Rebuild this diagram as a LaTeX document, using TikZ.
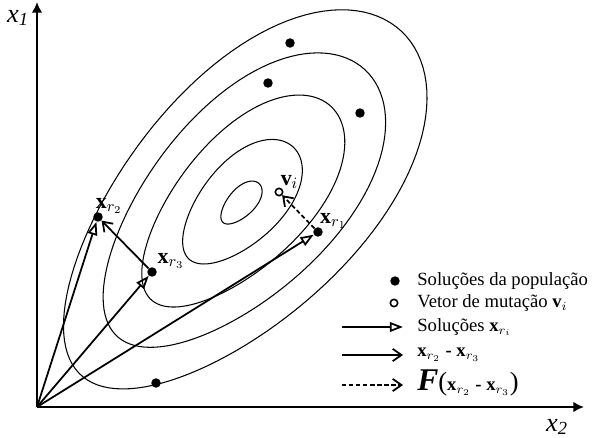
\documentclass[tikz,border=0pt]{standalone}
\usepackage{fontspec}
\setmainfont{Liberation Serif}
\usetikzlibrary{arrows.meta,positioning}

\newcommand{\solx}[1]{\textbf{x}$_{r_{#1}}$}

\tikzset{
  ponto/.style={circle,fill=black,inner sep=0pt,minimum size=5.4pt},
  mutante/.style={circle,draw=black,fill=white,line width=0.9pt,inner sep=0pt,minimum size=4.2pt},
  eixo/.style={line width=1.3pt,-{Latex[length=6pt,width=6pt]}},
  curva/.style={line width=0.6pt},
  vetsol/.style={line width=1pt,-{Triangle[open,length=7.5pt,width=5.5pt,line width=1pt]}},
  vetdif/.style={line width=1pt,-{Straight Barb[length=5pt,width=7pt,line width=1pt]}},
  vetmut/.style={vetdif,dash pattern=on 2.5pt off 1.5pt},
  rotulo/.style={inner sep=0pt,font=\fontsize{10.6}{13}\selectfont},
  marca/.style={inner sep=0pt,font=\fontsize{12.5}{14}\selectfont},
}

\begin{document}
\begin{tikzpicture}[x=0.02cm,y=0.02cm]
    \useasboundingbox (0,0) rectangle (592,437);
    % Eixos
    \coordinate (O) at (37,30);
    \coordinate (ytop) at (37,435);
    \coordinate (xend) at (584,30);
    \draw[eixo] (O) -- (ytop);
    \draw[eixo] (O) -- (xend);
    \node[rotulo] (lx1) at (18,419) {\fontsize{15}{15}\selectfont\itshape x\textsubscript{1}};
    \node[rotulo] (lx2) at (557,10) {\fontsize{15}{15}\selectfont\itshape x\textsubscript{2}};
    % Curvas de nivel
    \begin{scope}[shift={(241,234)},rotate=47]
      \foreach \a/\b in {26.5/13.5,76.5/40,132/64,182/92,235/117}
        \draw[curva] plot[domain=0:360,samples=120] ({\a*cos(\x)},{\b*sin(\x)*(1+0.12*cos(\x))}) -- cycle;
    \end{scope}
    % Solucoes da populacao
    \node[ponto] (p1) at (290,394) {};
    \node[ponto] (p2) at (268,354) {};
    \node[ponto] (p3) at (360,324) {};
    \node[ponto] (p4) at (156,54) {};
    \node[ponto] (xr1) at (318,205) {};
    \node[ponto] (xr2) at (98,220) {};
    \node[ponto] (xr3) at (152,165) {};
    \node[mutante] (vi) at (279,245) {};
    \node[marca,above right=0pt and -3.5pt of xr2] (lxr2) {\solx{2}};
    \node[marca,above right=0pt and 1pt of xr3] (lxr3) {\solx{3}};
    \node[marca,above right=0pt and -1pt of xr1] (lxr1) {\solx{1}};
    \node[marca,above right=0pt and -1pt of vi] (lvi) {\textbf{v}$_i$};
    % Vetores
    \draw[vetsol] (O) -- (xr2);
    \draw[vetsol] (O) -- (xr3);
    \draw[vetsol] (O) -- (xr1);
    \draw[vetdif] (xr3) -- (xr2);
    \draw[vetmut] (xr1) -- (vi);
    % Legenda
    \node[ponto] (lg1) at (395,156) {};
    \node[mutante] (lg2) at (394,134) {};
    \coordinate (a3) at (342,110); \coordinate (b3) at (403,110);
    \coordinate (a4) at (342,82);  \coordinate (b4) at (403,82);
    \coordinate (a5) at (342,52);  \coordinate (b5) at (403,52);
    \draw[vetsol] (a3) -- (b3);
    \draw[vetdif] (a4) -- (b4);
    \draw[vetmut] (a5) -- (b5);
    \node[rotulo,anchor=west] (t1) at (417,156) {Soluções da população};
    \node[rotulo,anchor=west] (t2) at (417,134) {Vetor de mutação \textbf{v}$_i$};
    \node[rotulo,anchor=west] (t3) at (417,110) {Soluções \textbf{x}$_{r_i}$};
    \node[rotulo,anchor=west] (t4) at (417,82) {\solx{2} \textbf{-} \solx{3}};
    \node[rotulo,anchor=west] (t5) at (417,54) {{\fontsize{18}{18}\selectfont\bfseries\itshape F}{\fontsize{15}{15}\selectfont(}\solx{2} \textbf{-} \solx{3}{\fontsize{15}{15}\selectfont)}};
\end{tikzpicture}
\end{document}
